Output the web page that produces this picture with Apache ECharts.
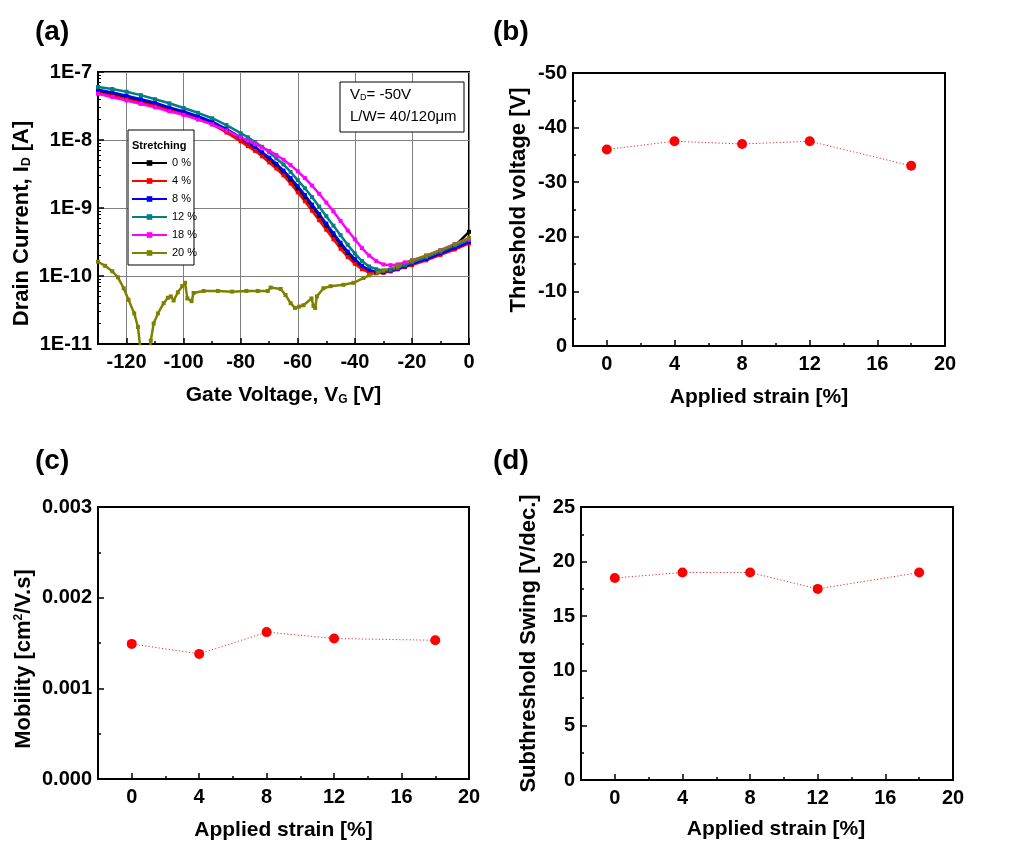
<!DOCTYPE html>
<html><head><meta charset="utf-8">
<script src="https://cdn.jsdelivr.net/npm/echarts@6/dist/echarts.min.js"></script>
<style>html,body{margin:0;padding:0;background:#fff}#c{width:1030px;height:844px}</style>
</head><body><div id="c"></div>
<script>
// ---------- Panel (a): transfer curves, log10(I_D [A]) ----------
const gateV = [-130,-125,-120,-115,-110,-105,-100,-95,-90,-85,-80,-77.5,-75,-72.5,-70,-67.5,-65,-62.5,-60,-57.5,-55,-52.5,-50,-47.5,-45,-42.5,-40,-37.5,-35,-32.5,-30,-27.5,-25,-22.5,-20,-15,-10,-5,0];
const logId0  = [-7.28,-7.32,-7.37,-7.42,-7.48,-7.54,-7.60,-7.67,-7.75,-7.86,-7.98,-8.05,-8.12,-8.20,-8.29,-8.38,-8.48,-8.59,-8.72,-8.85,-8.98,-9.12,-9.26,-9.40,-9.54,-9.67,-9.78,-9.87,-9.93,-9.95,-9.95,-9.93,-9.90,-9.86,-9.82,-9.75,-9.66,-9.56,-9.35];
const logId4  = [-7.31,-7.35,-7.40,-7.45,-7.50,-7.56,-7.62,-7.69,-7.77,-7.89,-8.02,-8.09,-8.16,-8.24,-8.33,-8.42,-8.52,-8.64,-8.77,-8.90,-9.04,-9.18,-9.32,-9.46,-9.60,-9.72,-9.82,-9.90,-9.95,-9.96,-9.95,-9.93,-9.90,-9.87,-9.84,-9.77,-9.69,-9.61,-9.52];
const logId8  = [-7.26,-7.30,-7.35,-7.40,-7.45,-7.52,-7.58,-7.65,-7.73,-7.84,-7.96,-8.03,-8.10,-8.18,-8.26,-8.35,-8.45,-8.56,-8.68,-8.81,-8.95,-9.09,-9.23,-9.37,-9.51,-9.64,-9.75,-9.85,-9.91,-9.94,-9.94,-9.92,-9.89,-9.86,-9.82,-9.75,-9.67,-9.59,-9.50];
const logId12 = [-7.22,-7.25,-7.29,-7.34,-7.40,-7.46,-7.53,-7.60,-7.68,-7.78,-7.90,-7.96,-8.03,-8.10,-8.18,-8.27,-8.36,-8.47,-8.59,-8.71,-8.84,-8.98,-9.12,-9.26,-9.40,-9.54,-9.67,-9.78,-9.86,-9.90,-9.92,-9.91,-9.88,-9.84,-9.80,-9.72,-9.64,-9.55,-9.47];
const logId18 = [-7.32,-7.37,-7.42,-7.47,-7.52,-7.58,-7.63,-7.70,-7.77,-7.86,-7.96,-8.01,-8.06,-8.11,-8.16,-8.22,-8.29,-8.37,-8.46,-8.56,-8.67,-8.79,-8.92,-9.05,-9.19,-9.33,-9.46,-9.59,-9.70,-9.78,-9.83,-9.84,-9.83,-9.80,-9.77,-9.70,-9.62,-9.53,-9.45];
const gateV20 = [-130,-127.5,-125,-123,-121,-119.3,-117.3,-116,-115.2,-114,-112.5,-111.5,-110.5,-109,-107,-105.5,-104.5,-103.5,-102,-100.5,-99.5,-98.7,-97.2,-96.5,-93,-88,-83,-78,-74,-70.5,-69.5,-66,-64.3,-62.5,-61,-59.5,-58,-55.2,-54.5,-53.9,-53.3,-51,-48.5,-44,-40.5,-37,-35,-32,-30,-25,-20,-15,-10,-5,0];
const logId20 = [-9.79,-9.85,-9.93,-10.02,-10.18,-10.35,-10.55,-10.75,-11.05,-11.4,-11.4,-10.95,-10.70,-10.55,-10.40,-10.32,-10.30,-10.36,-10.24,-10.15,-10.10,-10.33,-10.37,-10.25,-10.22,-10.22,-10.23,-10.22,-10.22,-10.22,-10.17,-10.19,-10.28,-10.40,-10.47,-10.45,-10.43,-10.33,-10.44,-10.47,-10.30,-10.18,-10.15,-10.13,-10.10,-10.03,-9.99,-9.95,-9.92,-9.86,-9.77,-9.70,-9.62,-9.53,-9.44];
const stretchNames = ['0 %','4 %','8 %','12 %','18 %','20 %'];
const stretchColors = ['#000000','#ff0000','#0000ff','#008080','#ff00ff','#808000'];
const xTicksA = [-120,-100,-80,-60,-40,-20,0];
const xMinorA = [-110,-90,-70,-50,-30,-10];

// ---------- Panels (b)-(d) ----------
const strain = [0,4,8,12,18];
const thresholdV = [-36,-37.5,-37,-37.5,-33];
const mobility = [0.00149,0.00138,0.00162,0.00155,0.00153];
const subSwing = [18.5,19,19,17.5,19];
const strainTicks = [0,4,8,12,16,20];
const strainMinor = [2,6,10,14,18];

const F = 'Arial, "Liberation Sans", Helvetica, sans-serif';
const black = '#000';

// minor tick positions of the log axis, in log10 space
const logMinor = [];
for (let d = -11; d < -7; d++) for (let k = 2; k <= 9; k++) logMinor.push(d + Math.log10(k));

function toPairs(xs, logs){ return xs.map((x,i)=>[x, Math.pow(10, logs[i])]); }

const labelStyle = {color: black, fontFamily: F, fontWeight: 'bold', fontSize: 20};
const nameRich = {
  b: {fontFamily: F, fontWeight: 'bold', fontSize: 22, color: black},
  bx: {fontFamily: F, fontWeight: 'bold', fontSize: 21, color: black},
  s: {fontFamily: F, fontWeight: 'bold', fontSize: 12, color: black, verticalAlign: 'bottom'},
  sup: {fontFamily: F, fontWeight: 'bold', fontSize: 12, color: black, verticalAlign: 'top'}
};

function mainX(grid, min, max, ticks, name, gap, split, pad){
  return {type:'value', gridIndex:grid, min, max, position:'bottom',
    axisLine:{show:true, onZero:false, lineStyle:{color:black, width:2}},
    axisTick:{show:true, inside:true, length:6, customValues:ticks, lineStyle:{color:black, width:1.5}},
    axisLabel:{show:true, customValues:ticks, margin:8, ...labelStyle},
    splitLine:{show:!!split, lineStyle:{color:'#808080', width:1}},
    name, nameLocation:'middle', nameGap:gap, nameTextStyle:{rich:nameRich, padding:pad||0}};
}
function minorX(grid, min, max, ticks){
  return {type:'value', gridIndex:grid, min, max, position:'bottom',
    axisLine:{show:false, onZero:false}, axisLabel:{show:false}, splitLine:{show:false},
    axisTick:{show:true, inside:true, length:3, customValues:ticks, lineStyle:{color:black, width:1.5}}};
}
function linY(grid, min, max, interval, name, gap, pad, extra){
  return Object.assign({type:'value', gridIndex:grid, min, max, interval, position:'left',
    axisLine:{show:true, onZero:false, lineStyle:{color:black, width:2}},
    axisTick:{show:true, inside:true, length:6, lineStyle:{color:black, width:1.5}},
    minorTick:{show:true, splitNumber:2, length:3, lineStyle:{color:black, width:1.5}},
    axisLabel:{margin:6, ...labelStyle},
    splitLine:{show:false},
    name, nameLocation:'middle', nameGap:gap, nameRotate:90, nameTextStyle:{rich:nameRich, padding:pad||0}}, extra||{});
}

const gridBox = {show:true, borderColor:black, borderWidth:2, backgroundColor:'transparent', containLabel:false};

const seriesA = [logId0, logId4, logId8, logId12, logId18].map((arr,i)=>({
  name: stretchNames[i], type:'line', xAxisIndex:0, yAxisIndex:0,
  data: toPairs(gateV, arr), symbol:'rect', symbolSize:4, showSymbol:true,
  lineStyle:{color:stretchColors[i], width:2.5}, itemStyle:{color:stretchColors[i]},
  clip:true, z:2, emphasis:{disabled:true}
}));
seriesA.push({name: stretchNames[5], type:'line', xAxisIndex:0, yAxisIndex:0,
  data: toPairs(gateV20, logId20), symbol:'rect', symbolSize:4, showSymbol:true,
  lineStyle:{color:stretchColors[5], width:2.5}, itemStyle:{color:stretchColors[5]},
  clip:true, z:2, emphasis:{disabled:true}});

function scatterLine(name, xi, yi, ys){
  return {name, type:'line', xAxisIndex:xi, yAxisIndex:yi,
    data: strain.map((s,i)=>[s, ys[i]]), symbol:'circle', symbolSize:10,
    itemStyle:{color:'#ff0000'}, lineStyle:{color:'#e03030', width:1, type:[1.2,2.2]},
    z:2, emphasis:{disabled:true}};
}

const option = {
  animation:false,
  backgroundColor:'#fff',
  textStyle:{fontFamily:F},
  grid:[
    Object.assign({left:98, top:72, width:371, height:272}, gridBox),
    Object.assign({left:573, top:73, width:372, height:273}, gridBox),
    Object.assign({left:98, top:507, width:371, height:272}, gridBox),
    Object.assign({left:581, top:507, width:372, height:273}, gridBox),
    {left:98, top:72, width:371, height:272, show:false}
  ],
  xAxis:[
    mainX(0, -130, 0, xTicksA, '{bx|Gate Voltage, V}{s|G}{bx| [V]}', 41, true),
    minorX(0, -130, 0, xMinorA),
    mainX(1, -2, 20, strainTicks, '{bx|Applied strain [%]}', 41),
    minorX(1, -2, 20, strainMinor),
    mainX(2, -2, 20, strainTicks, '{bx|Applied strain [%]}', 41),
    minorX(2, -2, 20, strainMinor),
    mainX(3, -2, 20, strainTicks, '{bx|Applied strain [%]}', 39, false, [0,0,0,18]),
    minorX(3, -2, 20, strainMinor),
    {type:'value', gridIndex:4, min:0, max:1, show:false}
  ],
  yAxis:[
    {type:'log', logBase:10, gridIndex:0, min:1e-11, max:1e-7, position:'left',
      axisLine:{show:true, onZero:false, lineStyle:{color:black, width:2}},
      axisTick:{show:true, inside:true, length:6, lineStyle:{color:black, width:1.5}},
      axisLabel:{margin:6, ...labelStyle, formatter:v=>'1E'+Math.round(Math.log10(v))},
      splitLine:{show:true, lineStyle:{color:'#808080', width:1}},
      name:'{b|Drain Current, I}{s|D}{b| [A]}', nameLocation:'middle', nameGap:65, nameRotate:90,
      nameTextStyle:{rich:nameRich, padding:[0,31,0,0]}},
    linY(1, -50, 0, 10, '{b|Threshold voltage [V]}', 43, [0,0,0,19], {inverse:true}),
    linY(2, 0, 0.003, 0.001, '{b|Mobility [cm}{sup|2}{b|/V.s]}', 63, [0,32,0,0], {axisLabel:{margin:6, ...labelStyle, formatter:v=>v.toFixed(3)}}),
    linY(3, 0, 25, 5, '{b|Subthreshold Swing [V/dec.]}', 41),
    {type:'value', gridIndex:4, min:-11, max:-7, position:'left',
      axisLine:{show:false, onZero:false}, axisLabel:{show:false}, splitLine:{show:false},
      axisTick:{show:true, inside:true, length:3, customValues:logMinor, lineStyle:{color:black, width:1}}}
  ],
  legend:{
    data: stretchNames, orient:'vertical', left:131, top:157, padding:0,
    itemWidth:35, itemHeight:7, itemGap:6, selectedMode:false, z:6,
    textStyle:{fontFamily:F, fontSize:11, lineHeight:12, color:black}
  },
  graphic:[
    {type:'rect', z:5, shape:{x:128, y:130, width:66, height:135}, style:{fill:'#fff', stroke:black, lineWidth:1}},
    {type:'text', z:6, style:{x:132, y:140, text:'Stretching', font:'bold 11px '+F, fill:black, align:'left', verticalAlign:'top'}},
    {type:'rect', z:5, shape:{x:340, y:82, width:124, height:50}, style:{fill:'#fff', stroke:black, lineWidth:1}},
    {type:'text', z:6, style:{x:350, y:87, text:'{n|V}{s|D}{n|= -50V}', fill:black, align:'left', verticalAlign:'top',
      rich:{n:{fontFamily:F, fontSize:15, fill:black}, s:{fontFamily:F, fontSize:9, fill:black, verticalAlign:'bottom'}}}},
    {type:'text', z:6, style:{x:350, y:109, text:'L/W= 40/120\u03bcm', font:'15px '+F, fill:black, align:'left', verticalAlign:'top'}},
    {type:'text', z:6, style:{x:35, y:18, text:'(a)', font:'bold 28px '+F, fill:black, align:'left', verticalAlign:'top'}},
    {type:'text', z:6, style:{x:493, y:18, text:'(b)', font:'bold 28px '+F, fill:black, align:'left', verticalAlign:'top'}},
    {type:'text', z:6, style:{x:35, y:447, text:'(c)', font:'bold 28px '+F, fill:black, align:'left', verticalAlign:'top'}},
    {type:'text', z:6, style:{x:493, y:447, text:'(d)', font:'bold 28px '+F, fill:black, align:'left', verticalAlign:'top'}}
  ],
  series: seriesA.concat([
    scatterLine('Threshold voltage', 2, 1, thresholdV),
    scatterLine('Mobility', 4, 2, mobility),
    scatterLine('Subthreshold swing', 6, 3, subSwing)
  ])
};
const chart = echarts.init(document.getElementById('c'), null, {renderer:'canvas', width:1030, height:844});
chart.setOption(option);
</script></body></html>
